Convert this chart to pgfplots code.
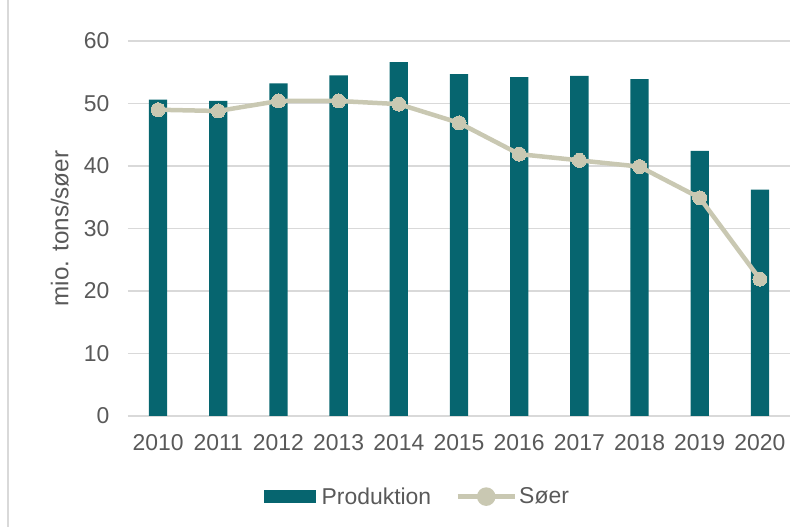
\documentclass[border=0pt]{standalone}
\usepackage{fontspec}
\setmainfont{Liberation Sans}
\usepackage{pgfplots}
\pgfplotsset{compat=1.18}
\definecolor{prodcolor}{RGB}{6,101,111}
\definecolor{soercolor}{RGB}{201,200,178}
\definecolor{txtgray}{RGB}{89,89,89}
\definecolor{gridgray}{RGB}{217,217,217}

\begin{document}
\begin{tikzpicture}
\begin{axis}[
    scale only axis,
    width=662bp, height=375bp,
    xmin=-0.5, xmax=10.5,
    ymin=0, ymax=60,
    xtick={0,...,10},
    xticklabels={2010,2011,2012,2013,2014,2015,2016,2017,2018,2019,2020},
    ytick={0,10,20,30,40,50,60},
    axis x line*=bottom,
    axis y line*=left,
    x axis line style={gridgray, line width=1.5bp, -},
    y axis line style={draw=none},
    major tick length=0pt,
    ymajorgrids=true,
    grid style={gridgray, line width=1.5bp},
    font=\fontsize{23}{27}\selectfont,
    tick label style={txtgray},
    /pgf/number format/assume math mode=true,
    yticklabel style={xshift=-15bp},
    xticklabel style={yshift=-15bp},
    ylabel={mio. tons/søer},
    every axis y label/.style={at={(axis description cs:-0.103,0.5)}, rotate=90, anchor=center,
        text=txtgray, font=\fontsize{24.3}{28}\selectfont},
    legend columns=2,
    legend style={draw=none, fill=none, text=txtgray, at={(axis description cs:0.437,-0.215)}, anchor=center,
        /tikz/every even column/.append style={column sep=22bp}},
]
\coordinate (ll) at (rel axis cs:0,0);
\coordinate (ur) at (rel axis cs:1,1);
\addplot[ybar, bar width=18.3bp, fill=prodcolor, draw=none,
    legend image code/.code={\fill[prodcolor] (0bp,-6.5bp) rectangle (52bp,6.5bp);
        \path (56bp,0bp);}]
coordinates {
    (0,50.6) (1,50.4) (2,53.2) (3,54.5) (4,56.6) (5,54.7)
    (6,54.2) (7,54.4) (8,53.9) (9,42.4) (10,36.2)
};
\addlegendentry{Produktion}
\addplot[soercolor, line width=4.5bp, mark=*, mark size=7bp,
    mark options={fill=soercolor, draw=soercolor, line width=0pt},
    legend image code/.code={\draw[soercolor, line width=5bp] (0bp,0bp) -- (57bp,0bp);
        \fill[soercolor] (28.5bp,0bp) circle (7bp);}]
coordinates {
    (0,49.0) (1,48.8) (2,50.4) (3,50.4) (4,49.9) (5,46.9)
    (6,41.9) (7,40.9) (8,39.9) (9,34.9) (10,21.9)
};
\addlegendentry{Søer}
\end{axis}
\draw[gridgray, line width=1.5bp] ([shift={(-120bp,-111bp)}]ll) -- ([shift={(-120bp,375bp+41bp)}]ll);
\pgfresetboundingbox
\path ([shift={(-128bp,-111bp)}]ll) rectangle ([shift={(18bp,41bp)}]ur);
\end{tikzpicture}
\end{document}
